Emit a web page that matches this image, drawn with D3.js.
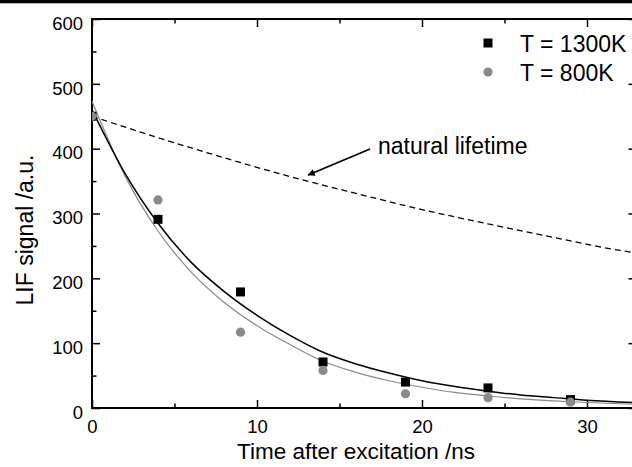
<!DOCTYPE html>
<html>
<head>
<meta charset="utf-8">
<script src="https://cdn.jsdelivr.net/npm/d3@7"></script>
<style>
  body { margin: 0; background: #fff; }
  svg { display: block; font-family: "Liberation Sans", Arial, sans-serif; }
</style>
</head>
<body>
<div id="main"></div>
<script>
// measured points (time /ns, LIF signal /a.u.)
const times = [0, 4, 9, 14, 19, 24, 29];
const signal1300 = [450, 291, 179, 71, 40, 31, 13];
const signal800 = [450, 321, 117, 58, 22, 16, 9];

// fitted curves
const fitTimes = [0, 2, 4, 6, 8, 10, 12, 14, 16, 18, 20, 22, 24, 26, 28, 30, 33];
const fit1300 = [460, 362, 285, 225, 180, 143, 112, 86, 68, 54, 42, 33, 26, 20, 16, 12, 8];
const fit800 = [473, 358, 273, 210, 163, 127, 98, 72, 55, 42, 32, 24, 18.5, 14, 11, 8.5, 5.5];

// natural lifetime curve (dashed)
const natTimes = [0, 4, 8, 12, 16, 20, 24, 28, 32, 33];
const natSignal = [450, 417, 386, 357, 331, 306, 284, 263, 243, 239];

const seriesNames = ["T = 1300K", "T = 800K"];
const xMajor = [0, 10, 20, 30];
const xMinor = [5, 15, 25];
const yMajor = [0, 100, 200, 300, 400, 500, 600];
const yMinor = [50, 150, 250, 350, 450, 550];

const width = 632;
const height = 467;
const plotLeft = 92, plotRight = 636.5, plotTop = 19, plotBottom = 408;

const xScale = d3.scaleLinear().domain([0, 33]).range([plotLeft, plotRight]);
const yScale = d3.scaleLinear().domain([0, 600]).range([plotBottom, plotTop]);

const svg = d3.select("#main")
  .append("svg")
  .attr("width", width)
  .attr("height", height);

svg.append("rect")
  .attr("x", 0).attr("y", 0)
  .attr("width", width).attr("height", 3.3)
  .attr("fill", "#000");

const defs = svg.append("defs");

defs.append("clipPath")
  .attr("id", "plot")
  .append("rect")
  .attr("x", plotLeft).attr("y", plotTop)
  .attr("width", plotRight - plotLeft).attr("height", plotBottom - plotTop);

defs.append("marker")
  .attr("id", "head")
  .attr("viewBox", "0 0 10 10")
  .attr("refX", 9).attr("refY", 5)
  .attr("markerWidth", 5).attr("markerHeight", 4)
  .attr("markerUnits", "strokeWidth")
  .attr("orient", "auto")
  .append("path")
  .attr("d", "M0,0 L10,5 L0,10 Z")
  .attr("fill", "#000");

// axes: major + minor ticks, all pointing inward
const addAxis = (axis, transform, values, size, labels, pad) => {
  const g = svg.append("g")
    .attr("transform", transform)
    .call(axis.tickValues(values).tickSize(-size).tickPadding(pad || 3)
      .tickFormat(labels ? d3.format("d") : ""));
  g.select(".domain").remove();
  g.selectAll("line").attr("stroke", "#000").attr("stroke-width", 1.5);
  g.selectAll("text").attr("fill", "#000").style("font-size", "18.5px");
  return g;
};

addAxis(d3.axisBottom(xScale), `translate(0,${plotBottom})`, xMajor, 8, true, 11.5);
addAxis(d3.axisBottom(xScale), `translate(0,${plotBottom})`, xMinor, 4.5, false);
addAxis(d3.axisTop(xScale), `translate(0,${plotTop})`, xMajor, 8, false);
addAxis(d3.axisTop(xScale), `translate(0,${plotTop})`, xMinor, 4.5, false);
const yAxisG = addAxis(d3.axisLeft(yScale), `translate(${plotLeft},0)`, yMajor, 8, true, 9);
yAxisG.selectAll("text").attr("dy", "0.55em");
addAxis(d3.axisLeft(yScale), `translate(${plotLeft},0)`, yMinor, 4.5, false);
addAxis(d3.axisRight(yScale), `translate(${plotRight},0)`, yMajor, 8, false);
addAxis(d3.axisRight(yScale), `translate(${plotRight},0)`, yMinor, 4.5, false);

svg.append("rect")
  .attr("x", plotLeft).attr("y", plotTop)
  .attr("width", plotRight - plotLeft).attr("height", plotBottom - plotTop)
  .attr("fill", "none")
  .attr("stroke", "#000")
  .attr("stroke-width", 2);

const plot = svg.append("g").attr("clip-path", "url(#plot)");

const line = d3.line()
  .x(d => xScale(d[0]))
  .y(d => yScale(d[1]))
  .curve(d3.curveMonotoneX);

plot.append("path")
  .datum(natTimes.map((t, i) => [t, natSignal[i]]))
  .attr("d", line)
  .attr("fill", "none")
  .attr("stroke", "#000")
  .attr("stroke-width", 1.3)
  .attr("stroke-dasharray", "6,4");

plot.append("path")
  .datum(fitTimes.map((t, i) => [t, fit800[i]]))
  .attr("d", line)
  .attr("fill", "none")
  .attr("stroke", "#888")
  .attr("stroke-width", 1.2);

plot.append("path")
  .datum(fitTimes.map((t, i) => [t, fit1300[i]]))
  .attr("d", line)
  .attr("fill", "none")
  .attr("stroke", "#000")
  .attr("stroke-width", 1.5);

plot.selectAll("rect.sq")
  .data(times.map((t, i) => [t, signal1300[i]]))
  .enter()
  .append("rect")
  .attr("class", "sq")
  .attr("x", d => xScale(d[0]) - 4.5)
  .attr("y", d => yScale(d[1]) - 4.5)
  .attr("width", 9)
  .attr("height", 9)
  .attr("fill", "#000");

plot.selectAll("circle")
  .data(times.map((t, i) => [t, signal800[i]]))
  .enter()
  .append("circle")
  .attr("cx", d => xScale(d[0]))
  .attr("cy", d => yScale(d[1]))
  .attr("r", 4.6)
  .attr("fill", "#8a8a8a");

// annotation
svg.append("line")
  .attr("x1", xScale(16.85)).attr("y1", yScale(399.5))
  .attr("x2", xScale(13.1)).attr("y2", yScale(359.4))
  .attr("stroke", "#000")
  .attr("stroke-width", 1.8)
  .attr("marker-end", "url(#head)");

svg.append("text")
  .attr("x", xScale(17.33))
  .attr("y", 154)
  .style("font-size", "23px")
  .text("natural lifetime");

// legend
const legend = svg.append("g");
legend.append("rect")
  .attr("x", 483.5).attr("y", 38.5)
  .attr("width", 9).attr("height", 9)
  .attr("fill", "#000");
legend.append("circle")
  .attr("cx", 488).attr("cy", 72)
  .attr("r", 4.6)
  .attr("fill", "#8a8a8a");
legend.selectAll("text")
  .data(seriesNames)
  .enter()
  .append("text")
  .attr("x", 520)
  .attr("y", (d, i) => 52 + i * 29)
  .style("font-size", "23px")
  .text(d => d);

// axis titles
svg.append("text")
  .attr("x", 356)
  .attr("y", 459)
  .style("text-anchor", "middle")
  .style("font-size", "22.5px")
  .text("Time after excitation /ns");

svg.append("text")
  .attr("transform", "translate(33,230) rotate(-90)")
  .style("text-anchor", "middle")
  .style("font-size", "23px")
  .text("LIF signal /a.u.");
</script>
</body>
</html>
